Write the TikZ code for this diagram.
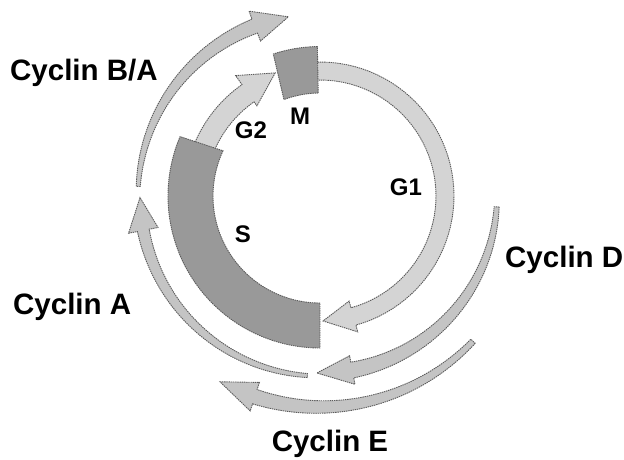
\documentclass[tikz,border=0pt]{standalone}
\usepackage{fontspec}
\setmainfont{Liberation Sans}
\definecolor{phasedark}{gray}{0.60}
\definecolor{phaselight}{gray}{0.83}
\definecolor{cyclinfill}{gray}{0.77}
\definecolor{rimgray}{gray}{0.36}

% Curved tapering arrow on a circle about the origin:
% #1 style, #2 mid radius, #3 tail angle, #4 head base angle, #5 tip angle,
% #6 tail width, #7 width at head base, #8 half width of the head
\newcommand\cellarrow[8]{%
  \path[#1]
    plot[domain=0:1,samples=50] ({#3+\x*(#4-#3)}:{#2+(#6+\x*(#7-#6))/2})
    -- ({#4}:{#2+#8}) -- ({#5}:{#2}) -- ({#4}:{#2-#8})
    -- plot[domain=0:1,samples=50] ({#4+\x*(#3-#4)}:{#2-(#7+\x*(#6-#7))/2})
    -- cycle;}

\begin{document}
\begin{tikzpicture}[x=1pt,y=1pt,
  rim/.style={draw=rimgray,line width=0.9pt,dash pattern=on 1.4pt off 0.8pt},
  phaseblock/.style={rim,fill=phasedark},
  phasearrow/.style={rim,fill=phaselight},
  cyclinarrow/.style={rim,fill=cyclinfill},
  cyclinlabel/.style={font=\fontsize{29.5}{32}\selectfont\bfseries,inner sep=0pt},
  phaselabel/.style={font=\fontsize{24}{26}\selectfont\bfseries,inner sep=0pt}]
\useasboundingbox (-320,-263) rectangle (304,196);

% outer cyclin arrows
\cellarrow{cyclinarrow}{182}{177}{111}{100}{4}{15}{16}
\cellarrow{cyclinarrow}{180}{266}{191}{180.5}{4}{12}{15}
\cellarrow{cyclinarrow}{177}{-3.5}{-79.5}{-91}{5}{16}{14.5}
\cellarrow{cyclinarrow}{211}{-43.5}{-108}{-118.3}{6}{15}{15}

% G1 arrow, from M round to S
\cellarrow{phasearrow}{125}{92}{-74.5}{-88.6}{18}{18}{16}

% G2 arrow, from S up to M
\path[phasearrow] (158:115) arc[start angle=158,end angle=125,radius=115]
  -- (125:110) -- (110:131) -- (125:147) -- (125:136)
  arc[start angle=125,end angle=158,radius=136] -- cycle;

% S and M blocks
\path[phaseblock] (270:107) arc[start angle=270,end angle=155,radius=107]
  -- (157:152) arc[start angle=157,end angle=270,radius=152] -- cycle;
\path[phaseblock] (91:103) arc[start angle=91,end angle=110.5,radius=103]
  -- (108.2:149.5) arc[start angle=108.2,end angle=91,radius=149.5] -- cycle;

% phase labels
\node[phaselabel] (g2) at (-69,66) {G2};
\node[phaselabel] (m)  at (-20,80) {M};
\node[phaselabel] (g1) at (86,9)   {G1};
\node[phaselabel] (s)  at (-77,-38) {S};

% cyclin labels
\node[cyclinlabel,anchor=base west] (cba) at (-310,116)  {Cyclin B/A};
\node[cyclinlabel,anchor=base west] (ca)  at (-307,-118) {Cyclin A};
\node[cyclinlabel,anchor=base west] (cd)  at (185,-71)   {Cyclin D};
\node[cyclinlabel,anchor=base]      (ce)  at (10,-255)   {Cyclin E};
\end{tikzpicture}
\end{document}
